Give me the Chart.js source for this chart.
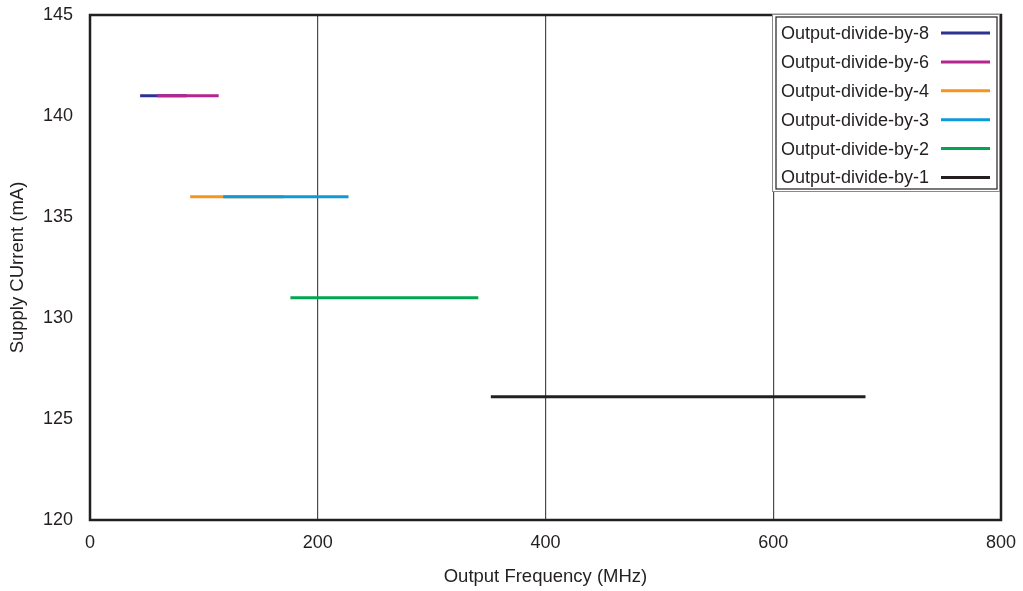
<!DOCTYPE html>
<html>
<head>
<meta charset="utf-8">
<script src="https://cdn.jsdelivr.net/npm/chart.js@4/dist/chart.umd.min.js"></script>
<style>
html,body{margin:0;padding:0;background:#fff;}
#wrap{width:1023px;height:591px;position:relative;}
</style>
</head>
<body>
<div id="wrap"><canvas id="c" width="1023" height="591"></canvas></div>
<script>
const seriesLabels = ['Output-divide-by-8','Output-divide-by-6','Output-divide-by-4','Output-divide-by-3','Output-divide-by-2','Output-divide-by-1'];
const seriesColors = ['#2E3192','#B5258F','#F7941D','#0E9AD7','#00A651','#231F20'];
const freqStart = [44, 58.7, 88, 117, 176, 352];
const freqEnd = [85, 113, 170, 227, 341, 681];
const current = [141, 141, 136, 136, 131, 126.1];
const xTicks = [0, 200, 400, 600, 800];
const yTicks = [120, 125, 130, 135, 140, 145];

const FONT = '"Liberation Sans", Arial, Helvetica, sans-serif';
const TXT = '#231F20';

const datasets = seriesLabels.map((label, i) => ({
  label,
  data: [{x: freqStart[i], y: current[i]}, {x: freqEnd[i], y: current[i]}],
  borderColor: seriesColors[i],
  backgroundColor: seriesColors[i],
  borderWidth: 3,
  borderCapStyle: 'butt',
  pointRadius: 0,
  fill: false,
  order: seriesLabels.length - i
}));

const framePlugin = {
  id: 'frame',
  afterDraw(chart) {
    const ctx = chart.ctx, a = chart.chartArea;
    ctx.save();
    ctx.strokeStyle = TXT;
    ctx.lineWidth = 2.5;
    ctx.strokeRect(a.left, a.top, a.right - a.left, a.bottom - a.top);
    // legend
    const bx = 776, by = 17, bw = 221, bh = 172;
    ctx.fillStyle = '#fff';
    ctx.fillRect(bx - 3, by - 2, bw + 6, bh + 5);
    ctx.lineWidth = 1;
    ctx.strokeStyle = '#8a8a8a';
    ctx.strokeRect(bx - 3.5, by - 2.5, bw + 6, bh + 5);
    ctx.strokeStyle = TXT;
    ctx.lineWidth = 1.2;
    ctx.strokeRect(bx, by, bw, bh);
    ctx.font = '18px ' + FONT;
    ctx.textBaseline = 'middle';
    ctx.textAlign = 'left';
    chart.data.datasets.forEach((ds, i) => {
      const y = 33 + i * 28.9;
      ctx.fillStyle = TXT;
      ctx.fillText(ds.label, 781, y + 1);
      ctx.strokeStyle = ds.borderColor;
      ctx.lineWidth = 3;
      ctx.beginPath();
      ctx.moveTo(941, y);
      ctx.lineTo(990, y);
      ctx.stroke();
    });
    ctx.restore();
  }
};

new Chart(document.getElementById('c'), {
  type: 'line',
  data: { datasets },
  plugins: [framePlugin],
  options: {
    responsive: false,
    animation: false,
    devicePixelRatio: 1,
    layout: { padding: { left: 0, top: 15, right: 22, bottom: 0 } },
    plugins: { legend: { display: false }, tooltip: { enabled: false } },
    scales: {
      x: {
        type: 'linear',
        min: 0, max: 800,
        afterBuildTicks(s) { s.ticks = xTicks.map(v => ({value: v})); },
        afterFit(s) { s.height = 71; s.paddingLeft = 0; s.paddingRight = 0; },
        grid: { display: true, drawTicks: false, color: '#4a4a4a', lineWidth: 1.2 },
        border: { display: false },
        ticks: { padding: 12, color: TXT, font: { family: FONT, size: 18 }, maxRotation: 0 },
        title: { display: true, text: 'Output Frequency (MHz)', color: TXT, font: { family: FONT, size: 18.5 }, padding: { top: 4, bottom: 3 } }
      },
      y: {
        type: 'linear',
        min: 120, max: 145,
        afterBuildTicks(s) { s.ticks = yTicks.map(v => ({value: v})); },
        afterFit(s) { s.width = 90; s.paddingTop = 0; s.paddingBottom = 0; },
        grid: { display: false, drawTicks: false },
        border: { display: false },
        ticks: { padding: 17, color: TXT, font: { family: FONT, size: 18 } },
        title: { display: true, text: 'Supply CUrrent (mA)', color: TXT, font: { family: FONT, size: 18.5 }, padding: { top: 7, bottom: 0 } }
      }
    }
  }
});
</script>
</body>
</html>
